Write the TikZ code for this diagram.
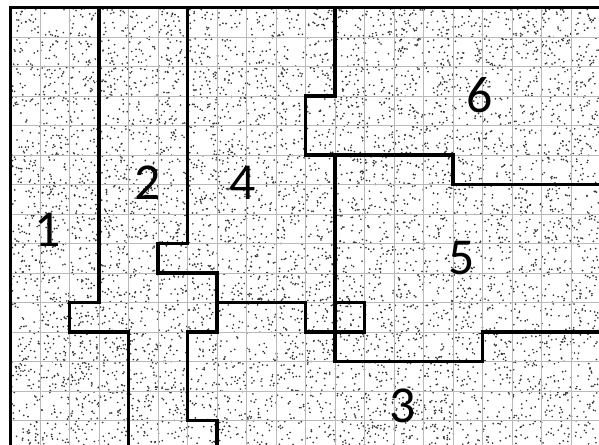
\documentclass[tikz,border=0pt]{standalone}
\usepackage{fontspec}
\setmainfont{Carlito}
\usepackage{tikz}

\begin{document}
\begin{tikzpicture}[
				x=0.5cm, y=-0.5cm,
				gridline/.style={
					draw=gray!55,
					line width=0.45pt
				},
				wall/.style={
					draw=black,
					line width=1.6pt,
					line join=miter
				},
				lbl/.style={
					font=\fontsize{25}{25}\selectfont,
					inner sep=0pt
				}
				]

				\useasboundingbox (-0.356,-0.254) rectangle (19.95,14.83);

				%------------------------------------------------
				% STIPPLE AND GRID
				%------------------------------------------------

				\pgfmathsetseed{4242}
				\foreach \d in {1,...,7000}
				\fill[black!80] ({rnd*19.95},{rnd*14.83}) circle (0.45pt);

				\foreach \c in {1,...,19}
				\draw[gridline] (\c,0) -- (\c,14.83);
				\foreach \r in {1,...,14}
				\draw[gridline] (0,\r) -- (19.95,\r);

				%------------------------------------------------
				% BORDER
				%------------------------------------------------

				\draw[wall] (0,14.83) -- (0,0) -- (19.95,0);

				%------------------------------------------------
				% BOUNDARIES
				%------------------------------------------------

				\draw[wall] (3,0) -- (3,10) -- (2,10) -- (2,11) -- (4,11) -- (4,14.83);

				\draw[wall] (6,0) -- (6,8) -- (5,8) -- (5,9) -- (7,9) -- (7,11)
				-- (6,11) -- (6,14) -- (7,14) -- (7,14.83);

				\draw[wall] (7,10) -- (10,10) -- (10,11) -- (12,11) -- (12,10) -- (11,10);

				\draw[wall] (11,0) -- (11,3) -- (10,3) -- (10,5) -- (15,5) -- (15,6) -- (19.95,6);

				\draw[wall] (11,5) -- (11,12) -- (16,12) -- (16,11) -- (19.95,11);

				%------------------------------------------------
				% REGION NUMBERS
				%------------------------------------------------

				\node[lbl] (r1) at (1.27,7.54) {1};
				\node[lbl] (r2) at (4.66,5.95) {2};
				\node[lbl] (r3) at (13.3,13.5) {3};
				\node[lbl] (r4) at (7.88,5.95) {4};
				\node[lbl] (r5) at (15.3,8.5) {5};
				\node[lbl] (r6) at (15.9,2.97) {6};

			\end{tikzpicture}
\end{document}
